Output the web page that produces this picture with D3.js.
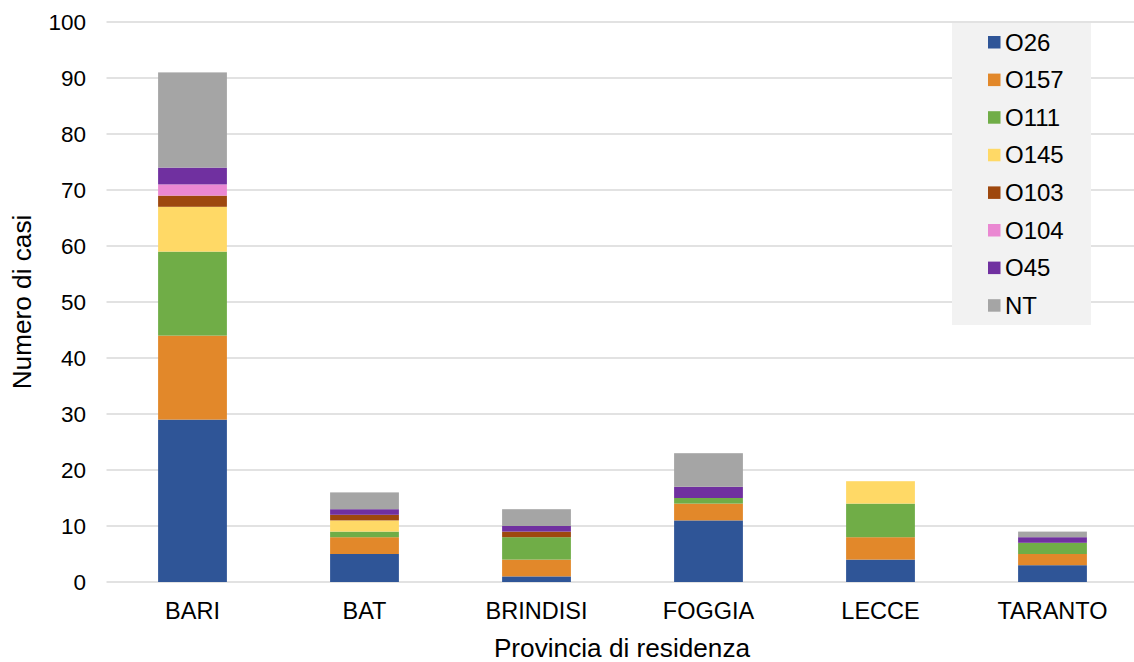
<!DOCTYPE html>
<html><head><meta charset="utf-8">
<script src="https://cdn.jsdelivr.net/npm/d3@7"></script>
<style>body{margin:0;background:#fff}svg{display:block;font-family:"Liberation Sans",Arial,sans-serif}</style>
</head><body>
<svg id="c" width="1134" height="662"></svg>
<script>
const categories = ["BARI","BAT","BRINDISI","FOGGIA","LECCE","TARANTO"];
const seriesNames = ["O26","O157","O111","O145","O103","O104","O45","NT"];
const O26  = [29,5,1,11,4,3];
const O157 = [15,3,3,3,4,2];
const O111 = [15,1,4,1,6,2];
const O145 = [8,2,0,0,4,0];
const O103 = [2,1,1,0,0,0];
const O104 = [2,0,0,0,0,0];
const O45  = [3,1,1,2,0,1];
const NT   = [17,3,3,6,0,1];
const yTicks = [0,10,20,30,40,50,60,70,80,90,100];
const colors = ["#2f5597","#e2882a","#70ad47","#ffd966","#9e480e","#ea88d2","#7030a0","#a5a5a5"];

(function(){
const seriesVals = [O26,O157,O111,O145,O103,O104,O45,NT];
const rows = categories.map((c,i)=>{const r={cat:c}; seriesNames.forEach((s,j)=>r[s]=seriesVals[j][i]); return r;});
const stacked = d3.stack().keys(seriesNames)(rows);

const svg = d3.select("#c");
const pL=106.5, pR=1138.5, pT=22, pB=582;
const x = d3.scaleBand().domain(categories).range([pL,pR]).paddingInner(0.6).paddingOuter(0.3);
const y = d3.scaleLinear().domain([0,100]).range([pB,pT]);

svg.append("g").selectAll("line").data(yTicks).join("line")
  .attr("x1",pL).attr("x2",1134).attr("y1",d=>y(d)).attr("y2",d=>y(d))
  .attr("stroke","#d9d9d9").attr("stroke-width",1.5);

svg.append("g").selectAll("text").data(yTicks).join("text")
  .attr("x",86).attr("y",d=>y(d)).attr("dy","0.35em").attr("text-anchor","end")
  .attr("font-size",22.5).attr("fill","#000").text(d=>d);

svg.append("g").selectAll("g").data(stacked).join("g")
  .attr("fill",(d,i)=>colors[i])
  .selectAll("rect").data(d=>d.filter(p=>p[1]>p[0])).join("rect")
  .attr("x",d=>x(d.data.cat)).attr("width",x.bandwidth())
  .attr("y",d=>y(d[1])).attr("height",d=>y(d[0])-y(d[1]));

svg.append("g").selectAll("text").data(categories).join("text")
  .attr("x",d=>x(d)+x.bandwidth()/2).attr("y",619).attr("text-anchor","middle")
  .attr("font-size",23.5).attr("fill","#000").text(d=>d);

svg.append("text").attr("x",622).attr("y",657).attr("text-anchor","middle")
  .attr("font-size",26.2).attr("fill","#000").text("Provincia di residenza");
svg.append("text").attr("transform","translate(31,302) rotate(-90)").attr("text-anchor","middle")
  .attr("font-size",26.2).attr("fill","#000").text("Numero di casi");

const lg = svg.append("g");
lg.append("rect").attr("x",952).attr("y",23).attr("width",139).attr("height",302).attr("fill","#f2f2f2");
const li = lg.selectAll("g").data(seriesNames).join("g")
  .attr("transform",(d,i)=>`translate(988,${42+i*37.6})`);
li.append("rect").attr("x",0).attr("y",-6).attr("width",12.5).attr("height",12.5).attr("fill",(d,i)=>colors[i]);
li.append("text").attr("x",17).attr("y",0).attr("dy","0.36em").attr("font-size",24).attr("fill","#000").text(d=>d);
})();
</script>
</body></html>
